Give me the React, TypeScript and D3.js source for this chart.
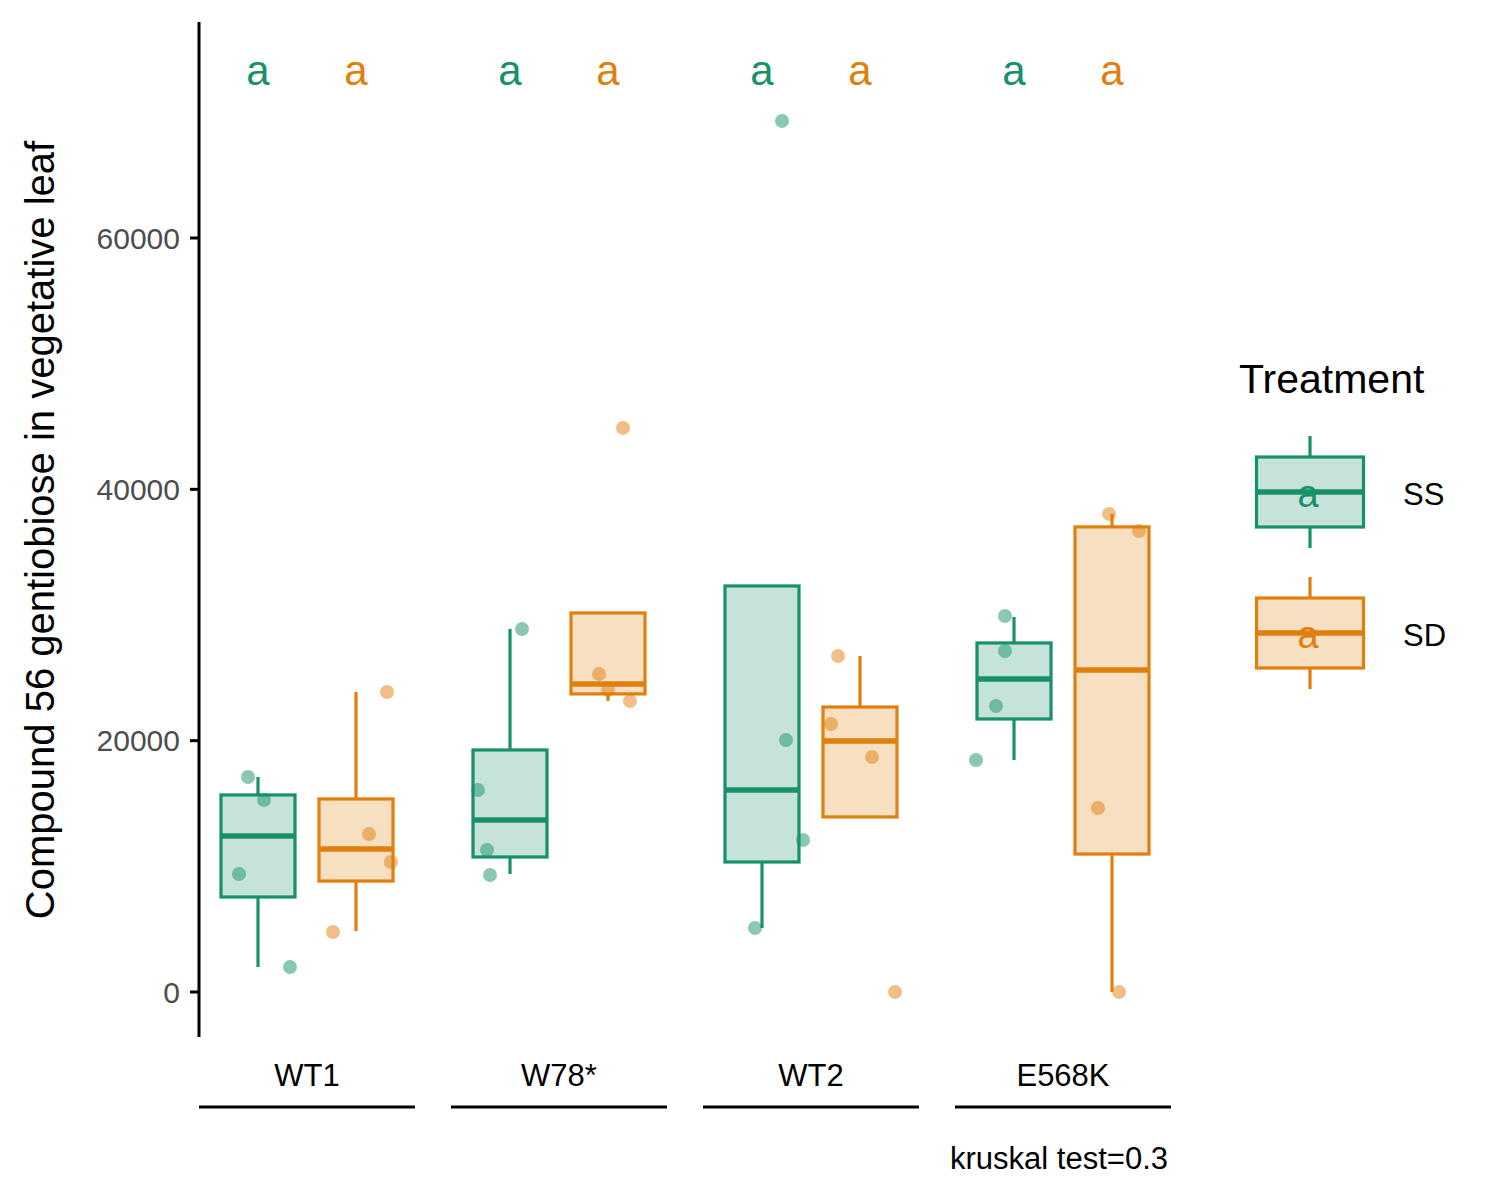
import { useEffect } from 'react';
import * as d3 from 'd3';

const genotypes = ['WT1', 'W78*', 'WT2', 'E568K'];
const treatments = ['SS', 'SD'];
const colors = ['#17916A', '#E07F0C'];
const yTicks = [0, 20000, 40000, 60000];

// box stats per [genotype][treatment]: [low, q1, median, q3, high]
const boxStats = [
  [[1990, 7560, 12415, 15680, 17110], [4850, 8830, 11380, 15360, 23875]],
  [[9390, 10745, 13690, 19260, 28890], [23160, 23720, 24510, 30160, 30160]],
  [[5090, 10345, 16075, 32310, 32310], [13930, 13930, 19975, 22680, 26740]],
  [[18460, 21725, 24910, 27775, 29845], [0, 10980, 25630, 37010, 38045]],
];

// jittered points: [x offset from box centre in px, value]
const points = [
  [[[-10, 17110], [6, 15280], [-19, 9390], [32, 1990]], [[31, 23875], [13, 12570], [35, 10345], [-23, 4775]]],
  [[[12, 28890], [-32, 16075], [-23, 11300], [-20, 9310]], [[15, 44890], [-9, 25310], [0, 24035], [22, 23160]]],
  [[[20, 69320], [24, 20055], [41, 12100], [-7, 5090]], [[-22, 26740], [-29, 21330], [12, 18700], [35, 0]]],
  [[[-9, 29925], [-9, 27140], [-18, 22760], [-38, 18460]], [[-3, 38045], [27, 36690], [-14, 14645], [7, 0]]],
];

// legend key glyph stats on a 0..4 scale
const keyStats = [0, 0.75, 2, 3.25, 4];

const FONT = 'Liberation Sans, Arial, sans-serif';

export default function App() {
  useEffect(() => {
    document.body.style.margin = '0';
  }, []);

  const y = d3.scaleLinear().domain([0, 60000]).range([992, 238]);
  const x = d3.scaleBand().domain(genotypes).range([181, 1189]).padding(0);
  const dodge = 49;

  const box = (s: number[], cx: number, col: string, bw: number, scale = y) => (
    <g>
      <line x1={cx} x2={cx} y1={scale(s[0])} y2={scale(s[1])} stroke={col} strokeWidth={3.2} />
      <line x1={cx} x2={cx} y1={scale(s[3])} y2={scale(s[4])} stroke={col} strokeWidth={3.2} />
      <rect x={cx - bw / 2} width={bw} y={scale(s[3])} height={scale(s[1]) - scale(s[3])}
        fill={col} fillOpacity={0.25} stroke={col} strokeWidth={3.2} />
      <line x1={cx - bw / 2} x2={cx + bw / 2} y1={scale(s[2])} y2={scale(s[2])} stroke={col} strokeWidth={5.5} />
    </g>
  );

  return (
    <svg width={1500} height={1200} style={{ display: 'block', fontFamily: FONT }}>
      <rect width={1500} height={1200} fill="white" />
      <line x1={199} x2={199} y1={22} y2={1037} stroke="black" strokeWidth={3} />
      {yTicks.map((t) => (
        <g key={t}>
          <line x1={190} x2={199} y1={y(t)} y2={y(t)} stroke="black" strokeWidth={3} />
          <text x={180} y={y(t)} dy="0.35em" textAnchor="end" fontSize={30} fill="#4d4d4d">{t}</text>
        </g>
      ))}
      <text transform="translate(54,530) rotate(-90)" textAnchor="middle" fontSize={40}>
        Compound 56 gentiobiose in vegetative leaf
      </text>

      {genotypes.map((g, gi) => {
        const c = x(g)! + x.bandwidth() / 2;
        return (
          <g key={g}>
            {treatments.map((t, ti) => {
              const cx = c + (ti === 0 ? -dodge : dodge);
              return (
                <g key={t}>
                  {box(boxStats[gi][ti], cx, colors[ti], 74)}
                  {points[gi][ti].map(([dx, v], k) => (
                    <circle key={k} cx={cx + dx} cy={y(v)} r={7} fill={colors[ti]} fillOpacity={0.5} />
                  ))}
                  <text x={cx} y={85} textAnchor="middle" fontSize={42} fill={colors[ti]}>a</text>
                </g>
              );
            })}
            <text x={c} y={1086} textAnchor="middle" fontSize={31}>{g}</text>
            <line x1={c - 108} x2={c + 108} y1={1107} y2={1107} stroke="black" strokeWidth={3} />
          </g>
        );
      })}
      <text x={1168} y={1169} textAnchor="end" fontSize={31}>kruskal test=0.3</text>

      <text x={1239} y={393} fontSize={41}>Treatment</text>
      {treatments.map((t, ti) => {
        const top = 436 + ti * 141;
        const ls = d3.scaleLinear().domain([0, 4]).range([top + 112, top]);
        return (
          <g key={t}>
            {box(keyStats, 1310, colors[ti], 107, ls)}
            <text x={1308} y={top + 71} textAnchor="middle" fontSize={38} fill={colors[ti]}>a</text>
            <text x={1403} y={top + 69} fontSize={31}>{t}</text>
          </g>
        );
      })}
    </svg>
  );
}
